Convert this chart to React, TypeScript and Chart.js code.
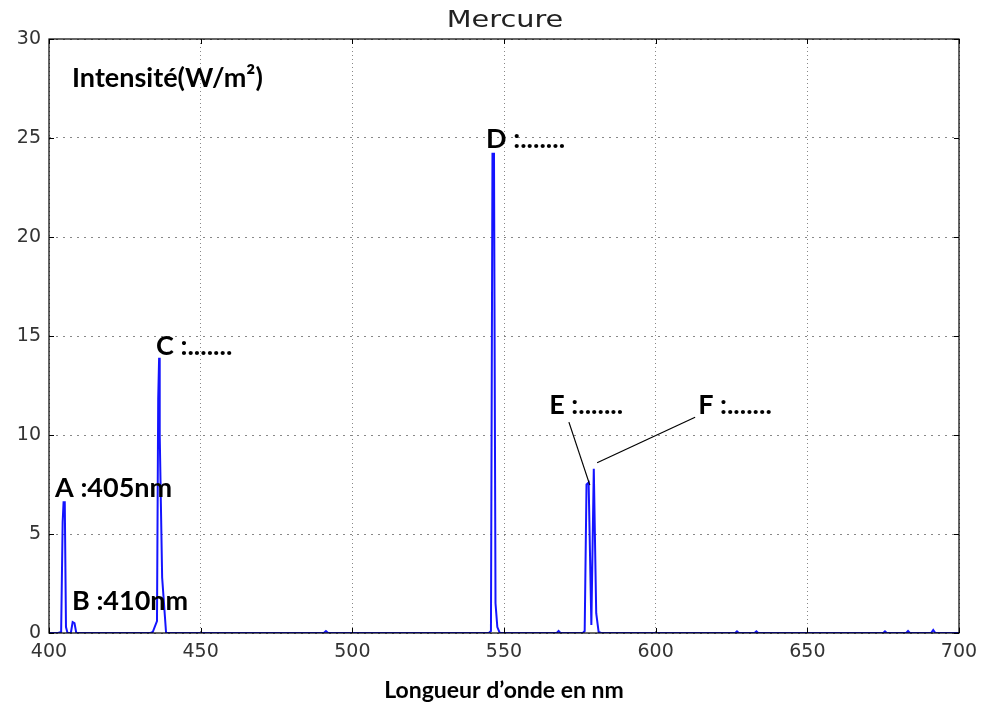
import React, { useEffect, useRef } from "react";
import { Chart, registerables } from "chart.js";
Chart.register(...registerables);

// Spectrum of mercury (wavelength in nm, intensity in W/m²)
const wavelengths = [
  400, 403.0, 404.0, 404.5, 404.8, 405.2, 405.6, 406.1,
  407.2, 407.8, 408.4, 409.0,
  433.5, 434.2, 435.6, 436.0, 436.3, 436.5, 437.3, 438.6,
  490.6, 491.3, 492.0,
  545.0, 545.7, 546.2, 546.7, 547.2, 547.8, 548.6,
  567.4, 568.0, 568.6,
  576.0, 576.6, 577.2, 577.9, 578.8, 579.6, 580.4, 581.2, 582.0,
  626.2, 626.8, 627.4, 632.6, 633.2, 633.8,
  675.0, 675.6, 676.2, 682.6, 683.2, 683.8, 690.8, 691.5, 692.2, 700,
];
const intensities = [
  0, 0, 0.05, 5.6, 6.6, 6.6, 0.3, 0,
  0, 0.55, 0.5, 0,
  0, 0.05, 0.6, 11.8, 13.9, 10.0, 2.8, 0,
  0, 0.1, 0,
  0, 0.1, 24.2, 24.2, 1.5, 0.3, 0,
  0, 0.1, 0,
  0, 0.1, 7.5, 7.6, 0.4, 8.3, 1.0, 0.05, 0,
  0, 0.08, 0, 0, 0.08, 0,
  0, 0.08, 0, 0, 0.1, 0, 0, 0.15, 0, 0,
];

const xTicks = [400, 450, 500, 550, 600, 650, 700];
const yTicks = [0, 5, 10, 15, 20, 25, 30];

const chartTitle = "Mercure";
const xAxisTitle = "Longueur d\u2019onde en nm";

// Annotation texts anchored in data coordinates (left edge, vertical middle)
const noteTexts = ["Intensit\u00e9(W/m\u00b2)", "A :405nm", "B :410nm", "C :.......", "D :.......", "E :.......", "F :......."];
const noteX = [407.6, 402.0, 407.6, 435.3, 544.1, 564.9, 614.0];
const noteY = [28.0, 7.3, 1.6, 14.5, 24.95, 11.5, 11.5];

// Leader lines (data coordinates)
const leaderX1 = [571.4, 613.0];
const leaderY1 = [10.65, 10.9];
const leaderX2 = [578.3, 580.7];
const leaderY2 = [7.47, 8.6];

const annotationPlugin = {
  id: "annotations",
  afterDraw(chart: any) {
    const { ctx, chartArea } = chart;
    const xs = chart.scales.x;
    const ys = chart.scales.y;
    ctx.save();
    // frame
    ctx.strokeStyle = "#000";
    ctx.lineWidth = 1.2;
    ctx.strokeRect(chartArea.left, chartArea.top, chartArea.right - chartArea.left, chartArea.bottom - chartArea.top);
    // inward ticks
    ctx.lineWidth = 1;
    xTicks.forEach((v) => {
      const px = Math.round(xs.getPixelForValue(v)) + 0.5;
      ctx.beginPath();
      ctx.moveTo(px, chartArea.bottom);
      ctx.lineTo(px, chartArea.bottom - 5);
      ctx.moveTo(px, chartArea.top);
      ctx.lineTo(px, chartArea.top + 5);
      ctx.stroke();
    });
    yTicks.forEach((v) => {
      const py = Math.round(ys.getPixelForValue(v)) + 0.5;
      ctx.beginPath();
      ctx.moveTo(chartArea.left, py);
      ctx.lineTo(chartArea.left + 5, py);
      ctx.moveTo(chartArea.right, py);
      ctx.lineTo(chartArea.right - 5, py);
      ctx.stroke();
    });
    // title (slightly widened like the reference)
    ctx.save();
    ctx.fillStyle = "#222";
    ctx.font = "23px 'DejaVu Sans'";
    ctx.textAlign = "center";
    ctx.textBaseline = "middle";
    ctx.translate((chartArea.left + chartArea.right) / 2 + 1, 21);
    ctx.scale(1.25, 1);
    ctx.fillText(chartTitle, 0, 0);
    ctx.restore();
    // notes
    ctx.fillStyle = "#000";
    ctx.font = "bold 27px Lato";
    ctx.textAlign = "left";
    ctx.textBaseline = "middle";
    noteTexts.forEach((t, i) => {
      ctx.fillText(t, xs.getPixelForValue(noteX[i]), ys.getPixelForValue(noteY[i]));
    });
    // leader lines
    ctx.strokeStyle = "#000";
    ctx.lineWidth = 1.2;
    leaderX1.forEach((_, i) => {
      ctx.beginPath();
      ctx.moveTo(xs.getPixelForValue(leaderX1[i]), ys.getPixelForValue(leaderY1[i]));
      ctx.lineTo(xs.getPixelForValue(leaderX2[i]), ys.getPixelForValue(leaderY2[i]));
      ctx.stroke();
    });
    ctx.restore();
  },
};

export default function App() {
  const ref = useRef<HTMLCanvasElement>(null);
  useEffect(() => {
    if (!ref.current) return;
    const points = wavelengths.map((w, i) => ({ x: w, y: intensities[i] }));
    const chart = new Chart(ref.current, {
      type: "line",
      data: {
        datasets: [
          {
            data: points,
            borderColor: "rgba(0,0,255,0.92)",
            borderWidth: 2,
            pointRadius: 0,
            tension: 0,
            fill: false,
          },
        ],
      },
      options: {
        animation: false,
        responsive: false,
        maintainAspectRatio: false,
        layout: { padding: { top: 39, right: 30, left: 0, bottom: 0 } },
        plugins: { legend: { display: false }, title: { display: false }, tooltip: { enabled: false } },
        scales: {
          x: {
            type: "linear",
            min: 400,
            max: 700,
            afterFit: (s: any) => { s.height = 74; },
            afterBuildTicks: (s: any) => { s.ticks = xTicks.map((v) => ({ value: v })); },
            ticks: { color: "#333", font: { family: "'DejaVu Sans'", size: 19 }, padding: 8, maxRotation: 0, autoSkip: false },
            grid: { color: "#888", lineWidth: 1, drawTicks: false },
            border: { display: false, dash: [1, 3] },
            title: {
              display: true,
              text: xAxisTitle,
              color: "#000",
              font: { family: "Lato", size: 23, weight: "bold" },
              padding: { top: 0, bottom: 3 },
            },
          },
          y: {
            type: "linear",
            min: 0,
            max: 30,
            afterFit: (s: any) => { s.width = 49; },
            afterBuildTicks: (s: any) => { s.ticks = yTicks.map((v) => ({ value: v })); },
            ticks: { color: "#333", font: { family: "'DejaVu Sans'", size: 19 }, padding: 8 },
            grid: { color: "#888", lineWidth: 1, drawTicks: false },
            border: { display: false, dash: [2, 5] },
          },
        },
      },
      plugins: [annotationPlugin],
    });
    return () => chart.destroy();
  }, []);
  return (
    <div style={{ position: "fixed", left: 0, top: 0, width: 989, height: 707, background: "#fff" }}>
      <canvas ref={ref} width={989} height={707} style={{ width: 989, height: 707 }} />
    </div>
  );
}
